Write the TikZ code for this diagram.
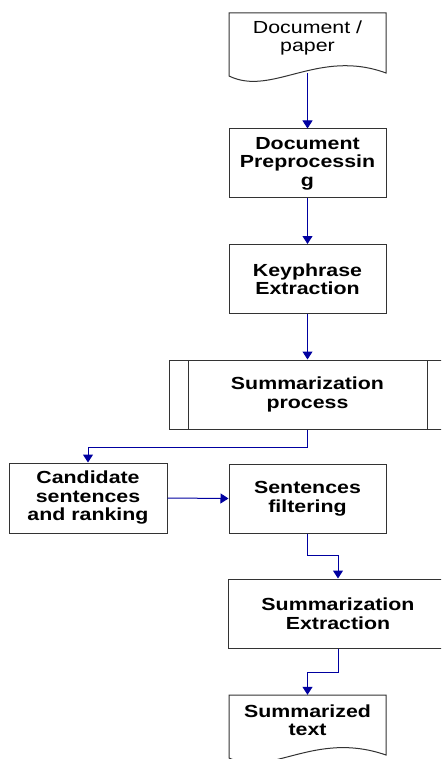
\documentclass[tikz,border=0pt]{standalone}
\usepackage{fontspec}
\setmainfont[FakeStretch=1.22]{Liberation Sans}
\usetikzlibrary{arrows.meta}
\definecolor{linkblue}{RGB}{0,0,160}
\begin{document}
\begin{tikzpicture}[x=1pt,y=-1pt,
  box/.style={draw=black!80, line width=1pt, fill=white, minimum width=157pt, minimum height=69pt, inner sep=0pt, align=center, font=\bfseries\fontsize{17.5}{18.5}\selectfont},
  docbox/.style={inner sep=0pt, minimum width=157pt, minimum height=50pt, align=center, font=\fontsize{17.5}{18.5}\selectfont},
  link/.style={draw=linkblue, line width=1pt, -{Triangle[width=10pt,length=8pt]}}]
\clip (0,0) rectangle (441,759);
\fill[white] (0,0) rectangle (441,759);
\draw[black!80, line width=1pt] (229,13)--(386,13)--(386,73) .. controls (318,48) and (272,97) .. (229,76)--cycle;
\node[docbox] (paper) at (307.5,38) {Document /\\paper};
\coordinate (paper end) at (307.5,73);
\node[box] (prep) at (307.5,163.5) {Document\\Preprocessin\\g};
\node[box] (key) at (307.5,279) {Keyphrase\\Extraction};
\node[box, minimum width=277pt] (proc) at (307.5,394.5) {Summarization\\process};
\draw[black!80, line width=1pt] (188,360)--(188,429) (427,360)--(427,429);
\node[box, minimum width=158pt, minimum height=70pt] (cand) at (88,498) {Candidate\\sentences\\and ranking};
\node[box] (filt) at (307.5,498.5) {Sentences\\filtering};
\node[box, minimum width=220pt] (extr) at (338,613.5) {Summarization\\Extraction};
\draw[black!80, line width=1pt] (229,695)--(386,695)--(386,755) .. controls (314,730) and (271,778) .. (229,758)--cycle;
\node[docbox, font=\bfseries\fontsize{17.5}{18.5}\selectfont] (sumtext) at (307.5,720) {Summarized\\text};
\draw[link] (paper end)--(prep.north);
\draw[link] (prep.south)--(key.north);
\draw[link] (key.south)--(proc.north);
\draw[link] (proc.south)--++(0,18) -| (cand.north);
\draw[link] (cand.east)--(filt.west);
\draw[link] (filt.south)--++(0,22) -| (extr.north);
\draw[link] (extr.south)--++(0,24) -| (sumtext.north);
\end{tikzpicture}
\end{document}
